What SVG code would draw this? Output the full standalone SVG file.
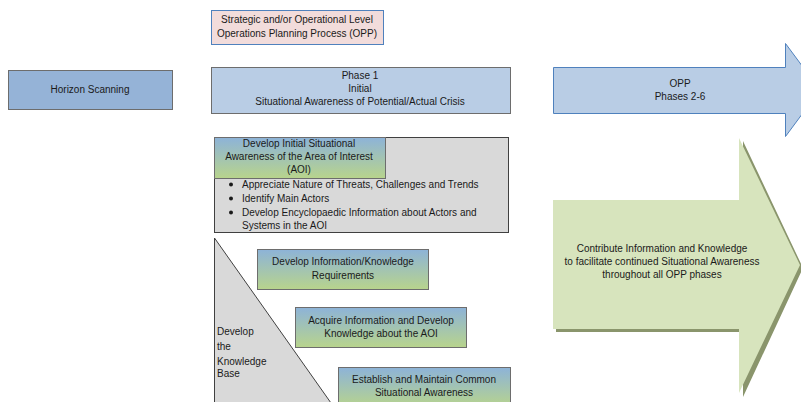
<svg xmlns="http://www.w3.org/2000/svg" width="801" height="402" viewBox="0 0 801 402">
<defs>
<linearGradient id="gb" x1="0" y1="0" x2="0" y2="1">
<stop offset="0" stop-color="#8db3d8"/>
<stop offset="1" stop-color="#b8d48c"/>
</linearGradient>
<style>
text{font-family:"Liberation Sans",Arial,sans-serif;font-size:10px;fill:#1a1a1a}
.c{text-anchor:middle}
.box{stroke:#6d6d6d;stroke-width:1}
.g{fill:url(#gb);stroke:#6d6d6d;stroke-width:1}
</style>
</defs>
<rect width="801" height="402" fill="#ffffff"/>
<g id="opp-title">
<rect x="211.5" y="10.5" width="172" height="34" fill="#f2dcdb" stroke="#4f81bd"/>
<text class="c" x="297" y="23">Strategic and/or Operational Level</text>
<text class="c" x="297" y="37">Operations Planning Process (OPP)</text>
</g>
<g id="horizon">
<rect x="8.5" y="70.5" width="164" height="39" fill="#95b3d7" class="box"/>
<text class="c" x="90" y="93">Horizon Scanning</text>
</g>
<g id="phase1">
<rect x="211.5" y="67.5" width="299" height="46" fill="#b9cde5" class="box"/>
<text class="c" x="360" y="79">Phase 1</text>
<text class="c" x="360" y="92">Initial</text>
<text class="c" x="360" y="105">Situational Awareness of Potential/Actual Crisis</text>
</g>
<g id="opp-arrow">
<path d="M553.5 67.5 H785.5 V43.5 L820 90 L785.5 136.5 V113.5 H553.5 Z" fill="#b9cde5" stroke="#4f81bd"/>
<text class="c" x="680" y="87">OPP</text>
<text class="c" x="680" y="100">Phases 2-6</text>
</g>
<g id="initial-sa">
<rect x="214.5" y="137.5" width="294" height="95" fill="#d9d9d9" stroke="#404040"/>
<rect x="214.5" y="137.5" width="171" height="41" class="g"/>
<text class="c" x="299" y="147">Develop Initial Situational</text>
<text class="c" x="299" y="160">Awareness of the Area of Interest</text>
<text class="c" x="299" y="173">(AOI)</text>
<circle cx="231" cy="184.5" r="2" fill="#1a1a1a"/>
<circle cx="231" cy="198.5" r="2" fill="#1a1a1a"/>
<circle cx="231" cy="212.5" r="2" fill="#1a1a1a"/>
<text x="242" y="188">Appreciate Nature of Threats, Challenges and Trends</text>
<text x="242" y="202">Identify Main Actors</text>
<text x="242" y="216">Develop Encyclopaedic Information about Actors and</text>
<text x="242" y="229">Systems in the AOI</text>
</g>
<g id="knowledge-base">
<path d="M214.5 238 V403 H331 Z" fill="#d9d9d9" stroke="#404040"/>
<text x="217" y="335">Develop</text>
<text x="217" y="350">the</text>
<text x="217" y="365">Knowledge</text>
<text x="217" y="377">Base</text>
</g>
<g id="req">
<rect x="257.5" y="249.5" width="171" height="40" class="g"/>
<text class="c" x="343" y="265">Develop Information/Knowledge</text>
<text class="c" x="343" y="279">Requirements</text>
</g>
<g id="acquire">
<rect x="295.5" y="307.5" width="171" height="40" class="g"/>
<text class="c" x="381" y="324">Acquire Information and Develop</text>
<text class="c" x="381" y="337">Knowledge about the AOI</text>
</g>
<g id="establish">
<rect x="338.5" y="367.5" width="172" height="40" class="g"/>
<text class="c" x="424" y="383">Establish and Maintain Common</text>
<text class="c" x="424" y="396">Situational Awareness</text>
</g>
<g id="contribute-arrow">
<path d="M556 203 H743 V141 L803 268 L743 397 V332 H556 Z" fill="#8a956c"/>
<path d="M553 200 H739 V138 L800 265 L739 393 V329 H553 Z" fill="#d7e4bd"/>
<text class="c" x="662" y="252">Contribute Information and Knowledge</text>
<text class="c" x="662" y="265">to facilitate continued Situational Awareness</text>
<text class="c" x="662" y="278">throughout all OPP phases</text>
</g>
</svg>
